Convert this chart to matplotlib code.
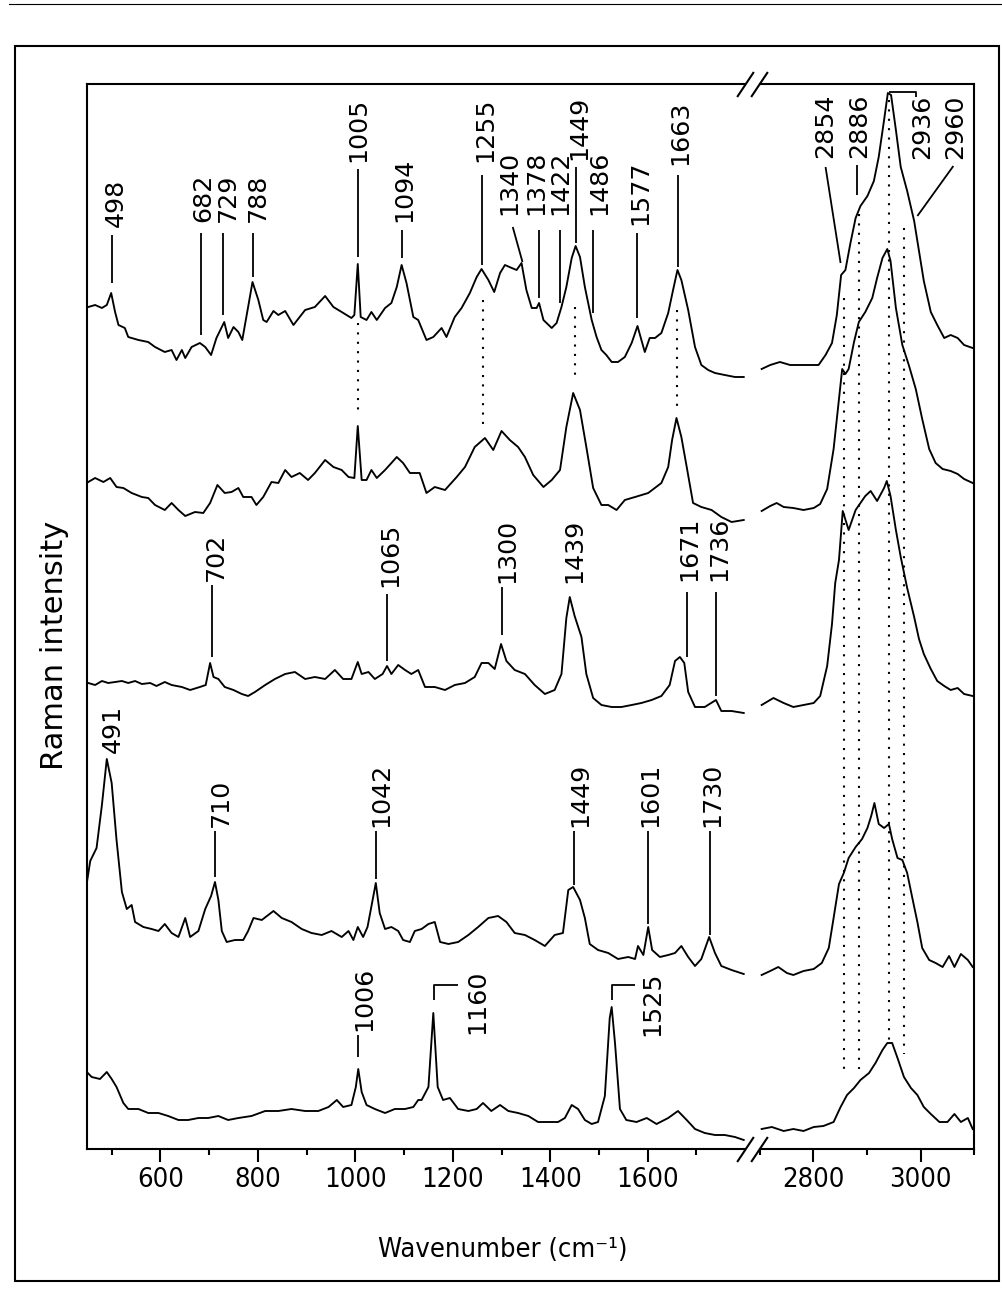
import numpy as np
import matplotlib
matplotlib.use('Agg')
import matplotlib.pyplot as plt
from matplotlib import font_manager as fm
from matplotlib.lines import Line2D
from matplotlib.patches import Rectangle
from matplotlib.transforms import offset_copy

# ---- spectra (stacked intensity, a.u.) ----
# spectrum 1 (top)
s1_lo_wn = [452, 466, 480, 490, 499, 507, 514, 527, 534, 555, 575, 589, 609, 623, 633, 644, 651, 664, 681, 692,
            704, 715, 731, 739, 750, 760, 768, 780, 789, 801, 811, 818, 832, 842, 856, 873, 897, 917, 938, 955,
            972, 992, 998, 1005, 1011, 1023, 1033, 1044, 1061, 1074, 1085, 1095, 1105, 1119, 1129, 1146, 1160,
            1177, 1187, 1204, 1218, 1235, 1249, 1259, 1273, 1285, 1297, 1307, 1321, 1331, 1341, 1351, 1362, 1372,
            1377, 1386, 1403, 1413, 1423, 1433, 1444, 1452, 1461, 1471, 1485, 1495, 1505, 1515, 1526, 1539, 1553,
            1567, 1579, 1587, 1594, 1604, 1615, 1628, 1642, 1652, 1661, 1669, 1683, 1697, 1710, 1724, 1738, 1758,
            1779, 1797]
s1_lo = [842, 844, 841, 844, 856, 837, 824, 821, 812, 809, 807, 802, 797, 799, 789, 799, 791, 802, 806, 802,
         794, 811, 827, 811, 822, 817, 809, 842, 867, 849, 829, 827, 838, 834, 838, 824, 839, 842, 853, 842,
         837, 831, 834, 885, 832, 829, 837, 829, 841, 846, 862, 884, 866, 832, 829, 809, 812,
         821, 812, 832, 841, 856, 872, 880, 869, 857, 876, 884, 881, 879, 886, 859, 841, 841,
         846, 829, 821, 826, 842, 862, 891, 903, 892, 862, 829, 812, 799, 794, 787, 787, 792,
         806, 823, 809, 797, 811, 811, 816, 836, 859, 879, 869, 839, 802, 784, 779, 776, 774,
         772, 772]
s1_hi_wn = [2704, 2720, 2738, 2757, 2776, 2795, 2810, 2823, 2835, 2844, 2852, 2860, 2869, 2879, 2888, 2901, 2913,
            2922, 2932, 2939, 2945, 2954, 2963, 2975, 2988, 2997, 3006, 3019, 3031, 3044, 3056, 3069, 3081, 3097]
s1_hi = [780, 784, 787, 784, 784, 784, 784, 794, 806, 834, 874, 879, 905, 931, 943, 953, 968,
         992, 1029, 1056, 1054, 1019, 982, 958, 928, 898, 868, 837, 824, 811, 814, 811, 804, 801]

# spectrum 2
s2_lo_wn = [452, 466, 483, 497, 510, 524, 541, 562, 575, 589, 609, 623, 637, 651, 671, 688, 702, 717, 732, 746,
            760, 770, 787, 797, 811, 828, 842, 856, 869, 886, 903, 917, 938, 955, 972, 986, 998, 1005, 1013, 1023,
            1033, 1044, 1061, 1074, 1085, 1098, 1112, 1122, 1132, 1146, 1163, 1184, 1208, 1225, 1245, 1266, 1283,
            1300, 1317, 1334, 1348, 1365, 1386, 1403, 1420, 1433, 1447, 1461, 1474, 1488, 1505, 1519, 1536, 1553,
            1574, 1601, 1628, 1642, 1650, 1659, 1669, 1680, 1693, 1710, 1731, 1751, 1772, 1797]
s2_lo = [667, 671, 667, 671, 662, 661, 656, 652, 651, 644, 639, 646, 639, 633, 637, 636, 646, 664, 656, 657,
         661, 652, 652, 644, 652, 667, 666, 679, 672, 676, 669, 676, 689, 682, 679, 672, 671, 723, 669, 669,
         679, 671, 679, 686, 692, 686, 676, 676, 676, 656, 662, 659, 672, 682, 702, 711, 699,
         718, 709, 702, 692, 674, 662, 669, 679, 722, 756, 739, 702, 661, 644, 644, 639, 649,
         652, 656, 666, 682, 709, 731, 712, 682, 646, 642, 639, 632, 627, 629]
s2_hi_wn = [2704, 2720, 2732, 2745, 2763, 2782, 2801, 2813, 2826, 2838, 2848, 2854, 2860, 2866, 2876, 2885, 2897,
            2910, 2919, 2929, 2938, 2944, 2954, 2966, 2978, 2991, 3003, 3016, 3028, 3041, 3056, 3069, 3081, 3097]
s2_hi = [638, 643, 646, 642, 641, 639, 641, 645, 660, 700, 750, 780, 775, 780, 807, 827, 837,
         851, 871, 891, 900, 888, 841, 804, 784, 760, 730, 700, 686, 680, 678, 675, 670, 666]

# spectrum 3
s3_lo_wn = [452, 466, 480, 493, 507, 521, 534, 548, 562, 579, 592, 609, 623, 644, 661, 681, 693, 702, 709, 719,
            732, 750, 767, 780, 794, 815, 835, 856, 876, 897, 917, 938, 958, 975, 992, 1005, 1013, 1027, 1040, 1056,
            1065, 1074, 1088, 1102, 1115, 1129, 1143, 1163, 1184, 1204, 1225, 1245, 1259, 1273, 1286, 1299, 1310,
            1327, 1348, 1368, 1389, 1409, 1423, 1433, 1440, 1450, 1464, 1474, 1488, 1505, 1526, 1546, 1567, 1587,
            1608, 1628, 1645, 1656, 1666, 1675, 1683, 1697, 1717, 1740, 1751, 1772, 1797]
s3_lo = [466, 464, 468, 466, 467, 468, 466, 468, 465, 466, 463, 467, 464, 462, 459, 462, 464, 486, 472, 470,
         462, 459, 455, 453, 457, 464, 470, 475, 477, 470, 472, 470, 479, 470, 470, 487, 475, 477, 470, 475,
         483, 475, 484, 479, 475, 479, 462, 462, 459, 464, 466, 472, 486, 486, 480, 505, 488,
         479, 475, 464, 455, 459, 475, 531, 552, 533, 512, 475, 451, 444, 442, 442, 444, 446,
         449, 453, 464, 488, 492, 486, 457, 442, 442, 449, 438, 438, 436]
s3_hi_wn = [2704, 2726, 2745, 2763, 2782, 2801, 2813, 2826, 2835, 2841, 2848, 2855, 2866, 2879, 2897, 2907, 2919,
            2932, 2937, 2944, 2954, 2963, 2975, 2988, 2997, 3006, 3019, 3031, 3044, 3056, 3069, 3081, 3097]
s3_hi = [444, 451, 446, 442, 444, 446, 453, 483, 525, 566, 589, 638, 619, 639, 653, 658, 648,
         661, 668, 653, 619, 592, 561, 532, 510, 495, 480, 468, 463, 459, 461, 455, 453]

# spectrum 4
s4_lo_wn = [449, 456, 469, 480, 490, 500, 510, 521, 531, 541, 548, 565, 582, 596, 609, 623, 637, 651, 661, 678,
            692, 704, 712, 719, 726, 736, 753, 770, 780, 791, 808, 832, 849, 869, 890, 910, 931, 951, 972, 986,
            996, 1005, 1016, 1025, 1032, 1042, 1050, 1061, 1074, 1088, 1098, 1112, 1122, 1136, 1150, 1163, 1174,
            1191, 1211, 1232, 1252, 1273, 1293, 1310, 1327, 1348, 1368, 1389, 1409, 1426, 1437, 1447, 1461, 1471,
            1481, 1498, 1519, 1539, 1560, 1574, 1580, 1591, 1601, 1609, 1625, 1642, 1656, 1669, 1683, 1697, 1710,
            1726, 1738, 1751, 1772, 1797]
s4_lo = [266, 288, 301, 344, 390, 366, 309, 257, 240, 244, 227, 222, 220, 218, 225, 216, 212, 231, 212, 218,
         240, 253, 267, 249, 218, 207, 209, 209, 218, 231, 229, 238, 231, 227, 220, 216, 214, 218, 212, 218,
         209, 222, 212, 222, 240, 266, 236, 220, 222, 218, 209, 207, 218, 220, 225, 227, 207,
         205, 207, 214, 222, 231, 233, 227, 216, 214, 209, 203, 214, 216, 259, 262, 249, 231,
         205, 199, 196, 190, 192, 190, 203, 194, 222, 199, 192, 194, 196, 203, 192, 183, 190,
         212, 196, 183, 179, 175]
s4_hi_wn = [2704, 2720, 2735, 2751, 2763, 2782, 2801, 2816, 2829, 2838, 2848, 2857, 2866, 2879, 2891, 2901, 2908,
            2914, 2922, 2932, 2941, 2947, 2957, 2966, 2975, 2985, 2994, 3003, 3016, 3028, 3041, 3053, 3063, 3075,
            3088, 3097]
s4_hi = [174, 178, 182, 176, 174, 178, 180, 186, 201, 231, 265, 276, 291, 302, 310, 321, 333,
         346, 325, 321, 325, 310, 291, 289, 276, 250, 227, 201, 189, 186, 182, 193, 182, 195,
         189, 182]

# spectrum 5 (bottom)
s5_lo_wn = [449, 459, 476, 490, 500, 510, 524, 534, 555, 575, 596, 616, 637, 657, 678, 698, 719, 739, 760, 787,
            815, 842, 869, 897, 924, 945, 962, 975, 992, 1001, 1006, 1013, 1023, 1040, 1061, 1081, 1102, 1119,
            1129, 1136, 1150, 1160, 1169, 1180, 1194, 1211, 1232, 1249, 1262, 1279, 1297, 1314, 1334, 1355, 1375,
            1396, 1416, 1430, 1444, 1457, 1471, 1485, 1498, 1512, 1522, 1526, 1533, 1543, 1556, 1577, 1598, 1618,
            1642, 1662, 1680, 1697, 1717, 1738, 1758, 1779, 1797]
s5_lo = [77, 72, 70, 77, 70, 62, 46, 40, 40, 36, 36, 33, 29, 29, 31, 31, 33, 29, 31, 33,
         38, 38, 40, 38, 38, 42, 49, 42, 44, 62, 80, 57, 44, 40, 36, 40, 40, 42,
         49, 49, 62, 136, 62, 49, 51, 40, 38, 40, 46, 38, 44, 38, 36, 33, 27,
         27, 27, 31, 44, 40, 29, 25, 27, 53, 131, 142, 105, 40, 29, 27, 31, 25,
         31, 38, 29, 20, 16, 14, 14, 12, 9]
s5_hi_wn = [2704, 2723, 2745, 2763, 2782, 2801, 2819, 2838, 2851, 2863, 2876, 2888, 2904, 2916, 2929, 2938, 2947,
            2957, 2969, 2982, 2994, 3006, 3019, 3035, 3050, 3063, 3075, 3088, 3097]
s5_hi = [20, 22, 18, 20, 18, 22, 23, 27, 42, 54, 61, 69, 76, 86, 99, 106, 106,
         91, 72, 61, 54, 42, 35, 27, 27, 35, 27, 31, 20]

spectra = [
    (s1_lo_wn, s1_lo, s1_hi_wn, s1_hi),
    (s2_lo_wn, s2_lo, s2_hi_wn, s2_hi),
    (s3_lo_wn, s3_lo, s3_hi_wn, s3_hi),
    (s4_lo_wn, s4_lo, s4_hi_wn, s4_hi),
    (s5_lo_wn, s5_lo, s5_hi_wn, s5_hi),
]

# dotted guides: wavenumber, top, bottom
guides = [(1005, 826, 739), (1261, 849, 722), (1451, 842, 772), (1661, 839, 742),
          (2857, 851, 74), (2885, 935, 80), (2942, 1049, 106), (2969, 921, 95)]

# peak labels: text, text x, text y, vertical anchor, leader line points
peak_labels = [
    ('498', 503, 922, 'bottom', [(500, 914), (500, 866)]),
    ('682', 683, 927, 'bottom', [(683, 916), (683, 814)]),
    ('729', 732, 927, 'bottom', [(729, 916), (729, 834)]),
    ('788', 794, 927, 'bottom', [(789, 916), (789, 872)]),
    ('1005', 1001, 987, 'bottom', [(1005, 980), (1005, 892)]),
    ('1094', 1095, 927, 'bottom', [(1096, 919), (1096, 891)]),
    ('1255', 1262, 987, 'bottom', [(1259, 974), (1259, 884)]),
    ('1340', 1310, 934, 'bottom', [(1323, 922), (1343, 887)]),
    ('1378', 1366, 934, 'bottom', [(1377, 919), (1377, 851)]),
    ('1422', 1415, 934, 'bottom', [(1420, 919), (1420, 846)]),
    ('1449', 1454, 989, 'bottom', [(1452, 982), (1452, 906)]),
    ('1486', 1495, 934, 'bottom', [(1487, 919), (1487, 836)]),
    ('1577', 1580, 924, 'bottom', [(1578, 916), (1578, 831)]),
    ('1663', 1662, 984, 'bottom', [(1662, 974), (1662, 882)]),
    ('2854', 2818, 991, 'bottom', [(2823, 982), (2851, 886)]),
    ('2886', 2880, 991, 'bottom', [(2882, 984), (2882, 954)]),
    ('2936', 2998, 990, 'bottom', [(2942, 1057), (2992, 1057), (2992, 1052)]),
    ('2960', 3060, 990, 'bottom', [(3061, 983), (2994, 933)]),
    ('702', 709, 568, 'bottom', [(705, 564), (705, 492)]),
    ('1065', 1067, 562, 'bottom', [(1065, 555), (1065, 488)]),
    ('1300', 1307, 566, 'bottom', [(1301, 562), (1301, 514)]),
    ('1439', 1443, 566, 'bottom', []),
    ('1671', 1680, 568, 'bottom', [(1680, 557), (1680, 492)]),
    ('1736', 1741, 568, 'bottom', [(1741, 557), (1741, 453)]),
    ('491', 497, 396, 'bottom', []),
    ('710', 719, 322, 'bottom', [(712, 318), (712, 272)]),
    ('1042', 1047, 322, 'bottom', [(1042, 318), (1042, 270)]),
    ('1449', 1457, 322, 'bottom', [(1449, 318), (1449, 264)]),
    ('1601', 1600, 322, 'bottom', [(1601, 318), (1601, 225)]),
    ('1730', 1727, 322, 'bottom', [(1727, 318), (1727, 214)]),
    ('1006', 1013, 118, 'bottom', [(1006, 114), (1006, 92)]),
    ('1160', 1245, 179, 'top', [(1162, 149), (1162, 164), (1211, 164)]),
    ('1525', 1604, 177, 'top', [(1526, 149), (1526, 164), (1573, 164)]),
]

lo_major = [600, 800, 1000, 1200, 1400, 1600]
lo_minor = [500, 700, 900, 1100, 1300, 1500, 1700]
hi_major = [2800, 3000]
hi_minor = [2700, 2900, 3100]


def condensed_font():
    for fam, st in [('DejaVu Sans Condensed', 'normal'), ('DejaVu Sans', 'condensed')]:
        try:
            p = fm.findfont(fm.FontProperties(family=fam, stretch=st), fallback_to_default=False)
        except Exception:
            continue
        if 'ondensed' in p:
            return p
    return None


cpath = condensed_font()
if cpath:
    tick_fp = fm.FontProperties(fname=cpath, size=19.7)
    title_fp = fm.FontProperties(fname=cpath, size=19.5)
else:
    tick_fp = fm.FontProperties(family='DejaVu Sans', size=17.8)
    title_fp = fm.FontProperties(family='DejaVu Sans', size=17.8)
ylab_fp = fm.FontProperties(family='DejaVu Sans', size=22)

fig = plt.figure(figsize=(10.03, 12.96), dpi=100)

bottom = 1 - 1149 / 1296
height = (1149 - 84) / 1296
ax_lo = fig.add_axes([87.3 / 1003, bottom, (745.2 - 87.3) / 1003, height])
ax_hi = fig.add_axes([759.5 / 1003, bottom, (974.3 - 759.5) / 1003, height])

for wl, il, wh, ih in spectra:
    ax_lo.plot(wl, il, color='k', lw=1.35)
    ax_hi.plot(wh, ih, color='k', lw=1.35)

for w, y0, y1 in guides:
    ax = ax_hi if w > 2000 else ax_lo
    ax.plot([w, w], [y0, y1], color='k', lw=1.5, linestyle=(0, (1, 3.5)))

for t, x, y, va, pts in peak_labels:
    ax = ax_hi if x > 2000 else ax_lo
    if pts:
        ax.plot([p[0] for p in pts], [p[1] for p in pts], color='k', lw=1.3, solid_capstyle='butt')
    ax.text(x, y, t, rotation=90, ha='center', va=va, fontsize=18.2, family='DejaVu Sans',
            transform=offset_copy(ax.transData, fig=fig, x=2.7, y=0, units='dots'))

for ax, lim, maj, mnr in [(ax_lo, (450, 1800), lo_major, lo_minor), (ax_hi, (2700, 3100), hi_major, hi_minor)]:
    ax.set_xlim(*lim)
    ax.set_ylim(0, 1065)
    ax.set_yticks([])
    ax.set_xticks(maj)
    ax.set_xticks(mnr, minor=True)
    ax.tick_params(axis='x', which='major', direction='out', length=9, width=1.5, pad=4)
    ax.tick_params(axis='x', which='minor', direction='out', length=4, width=1.5)
    for lab in ax.get_xticklabels():
        lab.set_fontproperties(tick_fp)
    for sp in ax.spines.values():
        sp.set_linewidth(1.5)

ax_lo.spines['right'].set_visible(False)
ax_hi.spines['left'].set_visible(False)

# break marks
brk = dict(marker=[(-1, -1.5), (1, 1.5)], markersize=18, linestyle='none', color='k',
           mec='k', mew=1.5, clip_on=False)
ax_lo.plot([1, 1], [0, 1], transform=ax_lo.transAxes, **brk)
ax_hi.plot([0, 0], [0, 1], transform=ax_hi.transAxes, **brk)

fig.text(503 / 1003, 1 - 1257 / 1296, 'Wavenumber (cm\u207b\u00b9)', ha='center', va='baseline',
         fontproperties=title_fp)
fig.text(55 / 1003, 1 - 645 / 1296, 'Raman intensity', rotation=90, ha='center', va='center',
         fontproperties=ylab_fp)

# frame around the figure and rule at the top
fig.add_artist(Rectangle((15 / 1003, 1 - 1281 / 1296), (999 - 15) / 1003, (1281 - 46) / 1296,
                         transform=fig.transFigure, fill=False, lw=1.5, ec='k'))
fig.add_artist(Line2D([9 / 1003, 1], [1 - 4 / 1296, 1 - 4 / 1296], transform=fig.transFigure,
                      color='k', lw=0.8))

fig.savefig('out.png', dpi=100)
